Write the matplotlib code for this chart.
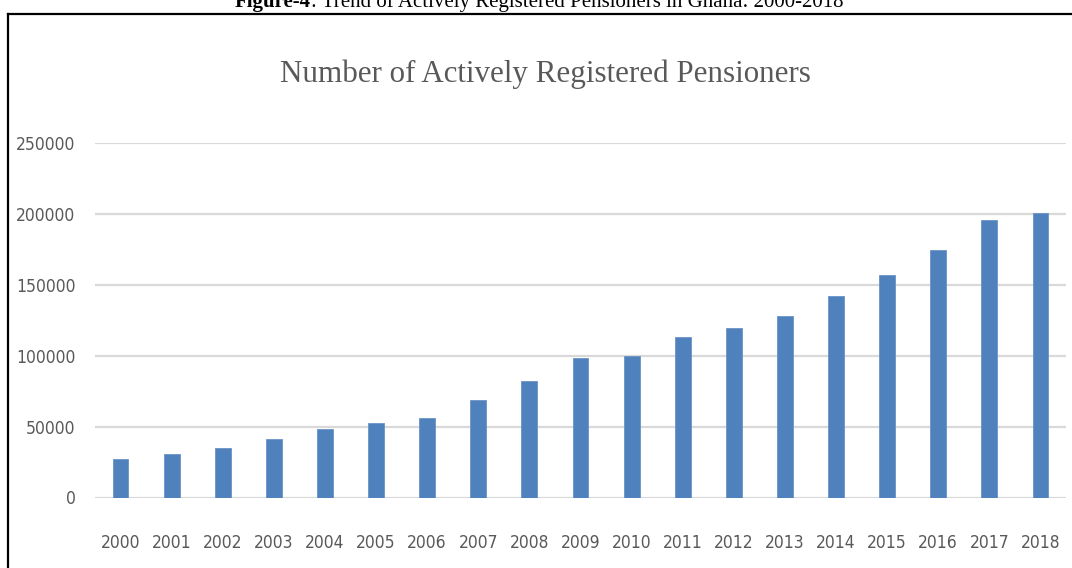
import numpy as np
from matplotlib import pyplot as plt
from matplotlib import font_manager
from matplotlib.font_manager import FontProperties
from matplotlib.lines import Line2D

# Actively registered pensioners per year
years = ['2000', '2001', '2002', '2003', '2004', '2005', '2006', '2007', '2008', '2009',
         '2010', '2011', '2012', '2013', '2014', '2015', '2016', '2017', '2018']
pensioners = [27000, 30500, 35000, 41500, 48000, 52700, 56200, 69000, 82000, 98500,
              100000, 113000, 119700, 127700, 142200, 156800, 174600, 195800, 200500]
yticks = [0, 50000, 100000, 150000, 200000, 250000]

title = 'Number of Actively Registered Pensioners'
caption_bold = 'Figure-4'
caption_rest = ': Trend of Actively Registered Pensioners in Ghana: 2000-2018'

# Look for a condensed sans face for the axis labels
tick_fp = None
for f in font_manager.fontManager.ttflist:
    cond = f.stretch in ('condensed', 'semi-condensed') or 'Narrow' in f.name or 'Condensed' in f.name
    if cond and f.style == 'normal' and f.weight in (400, 'normal', 'regular') and 'Serif' not in f.name and 'Mono' not in f.name:
        tick_fp = FontProperties(fname=f.fname)
        break
if tick_fp is None:
    tick_fp = FontProperties(family='Liberation Sans')
serif_font = 'Liberation Serif'

W, H = 1072, 568
fig = plt.figure(figsize=(W/100, H/100), dpi=100)

# Plot area in pixel coordinates
x0, x1 = 95, 1066
y_top, y_bot = 143, 497.5
ax = fig.add_axes([x0/W, 1-y_bot/H, (x1-x0)/W, (y_bot-y_top)/H])

x = np.arange(len(years))
ax.bar(x, pensioners, width=0.31, color='#4F81BD', edgecolor='#6A93C6', linewidth=0.6, zorder=3)

ax.set_xlim(-0.5, len(years)-0.5)
ax.set_ylim(0, 250000)
ax.set_yticks(yticks)
ax.set_yticklabels([str(v) for v in yticks])
ax.set_xticks(x)
ax.set_xticklabels(years)
ax.yaxis.grid(True, color='#D9D9D9', linewidth=1.6, zorder=0)
ax.tick_params(axis='both', length=0, colors='#595959')
for s in ax.spines.values():
    s.set_visible(False)

# Size the tick labels so "250000" is about 60 px wide
probe = fig.text(0, 0, '250000', fontproperties=tick_fp, fontsize=16)
fig.canvas.draw()
tsize = 16*60/probe.get_window_extent().width
probe.remove()
for lab in ax.get_xticklabels() + ax.get_yticklabels():
    lab.set_fontproperties(tick_fp)
    lab.set_fontsize(tsize)
ax.tick_params(axis='y', pad=14)
ax.tick_params(axis='x', pad=26)

# Chart title, sized to fit its width
t = fig.text(0.5*(288+803)/W, 1-74/H, title, ha='center', va='center',
             fontfamily=serif_font, fontsize=30, color='#595959')
fig.canvas.draw()
w = t.get_window_extent().width
t.set_fontsize(30*530/w)

# Caption above the frame
c1 = fig.text(235/W, 1-7/H, caption_bold, ha='left', va='baseline',
              fontfamily=serif_font, fontsize=15, fontweight='bold', color='black')
fig.canvas.draw()
bb = c1.get_window_extent()
fig.text(bb.x1/W, 1-7/H, caption_rest, ha='left', va='baseline',
         fontfamily=serif_font, fontsize=15, color='black')

# Frame around the chart
fig.add_artist(Line2D([8/W, 8/W], [0, 1-14/H], color='black', linewidth=1.6))
fig.add_artist(Line2D([8/W, 1], [1-14/H, 1-14/H], color='black', linewidth=1.6))

fig.savefig('out.png', dpi=100)
